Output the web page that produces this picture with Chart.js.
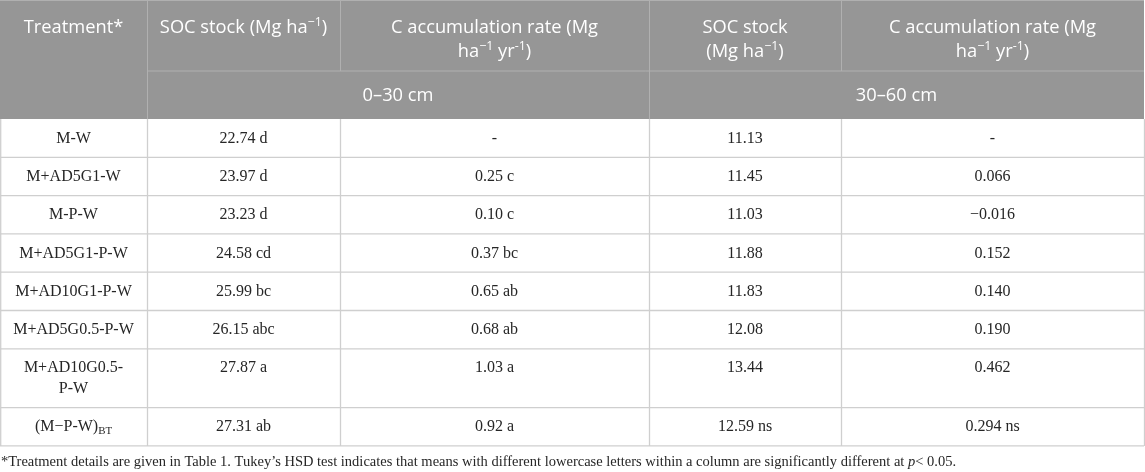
<!DOCTYPE html>
<html lang="en">
<head>
<meta charset="UTF-8">
<meta name="viewport" content="width=device-width, initial-scale=1.0">
<title>SOC stock and C accumulation</title>
<script src="https://cdn.jsdelivr.net/npm/chart.js"></script>
<style>
  html, body { margin: 0; padding: 0; background: #fff; }
  #wrap { width: 1145px; height: 472px; position: relative; }
</style>
</head>
<body>
<div id="wrap"><canvas id="tableChart"></canvas></div>
<script>
// table data
const treatments = ['M-W', 'M+AD5G1-W', 'M-P-W', 'M+AD5G1-P-W', 'M+AD10G1-P-W', 'M+AD5G0.5-P-W', 'M+AD10G0.5-P-W', '(M\u2212P-W)'];
const treatmentSubs = ['', '', '', '', '', '', '', 'BT'];
const soc0to30 = [22.74, 23.97, 23.23, 24.58, 25.99, 26.15, 27.87, 27.31];
const soc0to30Letters = ['d', 'd', 'd', 'cd', 'bc', 'abc', 'a', 'ab'];
const rate0to30 = [null, 0.25, 0.10, 0.37, 0.65, 0.68, 1.03, 0.92];
const rate0to30Letters = ['', 'c', 'c', 'bc', 'ab', 'ab', 'a', 'a'];
const soc30to60 = [11.13, 11.45, 11.03, 11.88, 11.83, 12.08, 13.44, 12.59];
const soc30to60Letters = ['', '', '', '', '', '', '', 'ns'];
const rate30to60 = [null, 0.066, -0.016, 0.152, 0.140, 0.190, 0.462, 0.294];
const rate30to60Letters = ['', '', '', '', '', '', '', 'ns'];

const headerTitles = [
  ['Treatment*'],
  ['SOC stock (Mg ha^{\u22121})'],
  ['C accumulation rate (Mg', 'ha^{\u22121} yr^{-1})'],
  ['SOC stock', '(Mg ha^{\u22121})'],
  ['C accumulation rate (Mg', 'ha^{\u22121} yr^{-1})']
];
const depthLabels = ['0\u201330 cm', '30\u201360 cm'];
const footnote = '*Treatment details are given in Table 1. Tukey\u2019s HSD test indicates that means with different lowercase letters within a column are significantly different at ~{p}< 0.05.';

// layout (table units == css px)
const colEdges = [0, 147, 340, 649, 841, 1144];
const headSplit = 71, headBottom = 119, rowH = 38.3, extraLine = 20.5;
const headFont = '"Open Sans"', bodyFont = '"Liberation Serif"';
const bodySize = 16;

function fmt(v, digits, letter) {
  if (v === null) return '-';
  let s = Math.abs(v).toFixed(digits);
  if (v < 0) s = '\u2212' + s;
  return letter ? s + ' ' + letter : s;
}

// tiny rich text: ^{sup} _{sub} ~{italic}
function parts(text) {
  const out = [];
  const re = /\^\{([^}]*)\}|_\{([^}]*)\}|~\{([^}]*)\}|([^^_~]+)/g;
  let m;
  while ((m = re.exec(text))) {
    if (m[1] !== undefined) out.push({t: m[1], k: 'sup'});
    else if (m[2] !== undefined) out.push({t: m[2], k: 'sub'});
    else if (m[3] !== undefined) out.push({t: m[3], k: 'it'});
    else out.push({t: m[4], k: 'n'});
  }
  return out;
}
function fontFor(k, size, family) {
  if (k === 'sup' || k === 'sub') return (size * 0.68).toFixed(1) + 'px ' + family;
  if (k === 'it') return 'italic ' + size + 'px ' + family;
  return size + 'px ' + family;
}
function drawRich(ctx, text, x, y, size, family, align) {
  const ps = parts(text);
  let w = 0;
  ps.forEach(p => { ctx.font = fontFor(p.k, size, family); p.w = ctx.measureText(p.t).width; w += p.w; });
  let cx = align === 'center' ? x - w / 2 : x;
  ps.forEach(p => {
    ctx.font = fontFor(p.k, size, family);
    let dy = 0;
    if (p.k === 'sup') dy = -size * 0.38;
    if (p.k === 'sub') dy = size * 0.2;
    ctx.fillText(p.t, cx, y + dy);
    cx += p.w;
  });
}
// break after hyphens, filling from the end so short tails stay together
function wrapLabel(ctx, text, maxW) {
  if (ctx.measureText(text).width <= maxW) return [text];
  const pieces = text.split(/(?<=-)/);
  const lines = [];
  let cur = '';
  for (let i = pieces.length - 1; i >= 0; i--) {
    const p = pieces[i];
    if (cur && ctx.measureText(p + cur).width > maxW) { lines.unshift(cur); cur = p; }
    else cur = p + cur;
  }
  if (cur) lines.unshift(cur);
  return lines;
}

const tablePlugin = {
  id: 'tablePlugin',
  afterDraw(chart) {
    const {ctx, scales: {x, y}} = chart;
    const px = v => x.getPixelForValue(v);
    const py = v => y.getPixelForValue(v);
    ctx.save();
    ctx.textBaseline = 'alphabetic';

    // header block
    ctx.fillStyle = '#969696';
    ctx.fillRect(px(colEdges[0]), py(0), px(colEdges[5]) - px(colEdges[0]), py(headBottom) - py(0));
    ctx.strokeStyle = '#b0b0b0';
    ctx.lineWidth = 1;
    ctx.beginPath();
    ctx.moveTo(px(0), py(0.5)); ctx.lineTo(px(colEdges[5]), py(0.5));
    ctx.moveTo(px(colEdges[1]), py(headSplit)); ctx.lineTo(px(colEdges[5]), py(headSplit));
    [1, 3].forEach(i => { ctx.moveTo(px(colEdges[i]) + 0.5, py(0)); ctx.lineTo(px(colEdges[i]) + 0.5, py(headBottom)); });
    [2, 4].forEach(i => { ctx.moveTo(px(colEdges[i]) + 0.5, py(0)); ctx.lineTo(px(colEdges[i]) + 0.5, py(headSplit)); });
    ctx.stroke();

    ctx.fillStyle = '#ffffff';
    headerTitles.forEach((lines, i) => {
      const cx = (px(colEdges[i]) + px(colEdges[i + 1])) / 2;
      lines.forEach((ln, j) => drawRich(ctx, ln, cx, py(33 + j * 24), 18.3, headFont, 'center'));
    });
    depthLabels.forEach((lab, i) => {
      const l = colEdges[1 + i * 2], r = colEdges[3 + i * 2];
      drawRich(ctx, lab, (px(l) + px(r)) / 2, py(101), 18.3, headFont, 'center');
    });

    // body rows
    ctx.font = bodySize + 'px ' + bodyFont;
    const labelLines = treatments.map((t, i) => wrapLabel(ctx, t + treatmentSubs[i], colEdges[1] - colEdges[0] - 20)
      .map((ln, k, arr) => (k === arr.length - 1 && treatmentSubs[i]) ? ln.slice(0, ln.length - treatmentSubs[i].length) + '_{' + treatmentSubs[i] + '}' : ln));
    const cells = treatments.map((t, i) => [
      fmt(soc0to30[i], 2, soc0to30Letters[i]),
      fmt(rate0to30[i], 2, rate0to30Letters[i]),
      fmt(soc30to60[i], 2, soc30to60Letters[i]),
      fmt(rate30to60[i], 3, rate30to60Letters[i])
    ]);

    let top = headBottom;
    const rowTops = [];
    ctx.fillStyle = '#262626';
    labelLines.forEach((lines, i) => {
      const h = rowH + (lines.length - 1) * extraLine;
      rowTops.push(top);
      const first = top + h / 2 + 4.5 - (lines.length - 1) * extraLine / 2;
      const c0 = (px(colEdges[0]) + px(colEdges[1])) / 2;
      lines.forEach((ln, k) => drawRich(ctx, ln, c0, py(first + k * extraLine), bodySize, bodyFont, 'center'));
      cells[i].forEach((txt, c) => {
        const cc = (px(colEdges[c + 1]) + px(colEdges[c + 2])) / 2;
        drawRich(ctx, txt, cc, py(first), bodySize, bodyFont, 'center');
      });
      top += h;
    });
    rowTops.push(top);

    // body grid
    ctx.strokeStyle = '#cfcfcf';
    ctx.lineWidth = 1.3;
    ctx.beginPath();
    rowTops.slice(1).forEach(t => { ctx.moveTo(px(0), py(t)); ctx.lineTo(px(colEdges[5]), py(t)); });
    colEdges.forEach((e, i) => {
      const xx = i === 0 ? px(e) + 0.7 : px(e) + 0.5;
      ctx.moveTo(xx, py(headBottom)); ctx.lineTo(xx, py(top));
    });
    ctx.stroke();

    // footnote
    ctx.fillStyle = '#262626';
    drawRich(ctx, footnote, px(1), py(top + 20.5), 14.5, bodyFont, 'left');
    ctx.restore();
  }
};

const chart = new Chart(document.getElementById('tableChart').getContext('2d'), {
  type: 'scatter',
  data: { datasets: [{ data: [], pointRadius: 0 }] },
  options: {
    responsive: true,
    maintainAspectRatio: false,
    animation: false,
    layout: { padding: 0 },
    plugins: { legend: { display: false }, tooltip: { enabled: false } },
    scales: {
      x: { type: 'linear', min: 0, max: 1145, display: false },
      y: { type: 'linear', min: 0, max: 472, reverse: true, display: false }
    }
  },
  plugins: [tablePlugin]
});
</script>
</body>
</html>
